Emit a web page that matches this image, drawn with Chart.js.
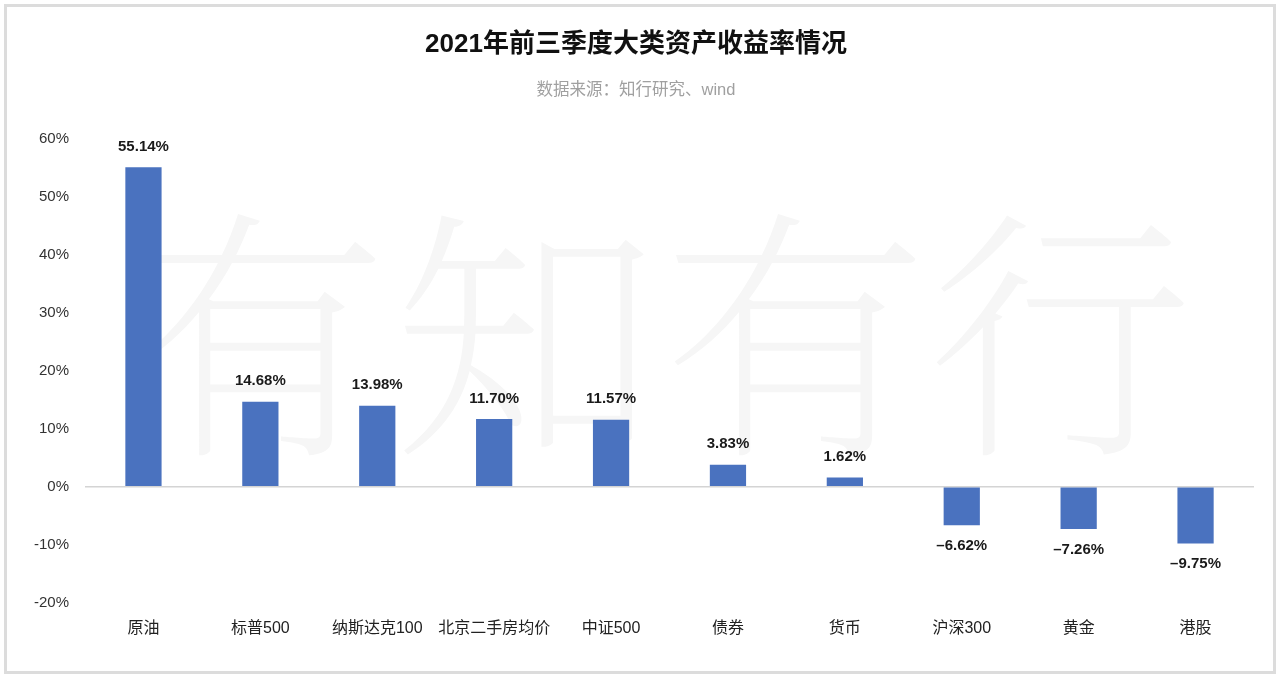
<!DOCTYPE html>
<html>
<head>
<meta charset="utf-8">
<script src="https://cdn.jsdelivr.net/npm/chart.js@4"></script>
<style>
  html, body { margin: 0; padding: 0; background: #fff; }
  #wrap { width: 1280px; height: 680px; position: relative; }
</style>
</head>
<body>
<div id="wrap"><canvas id="chart"></canvas></div>
<script>
// data
const categories = ["原油", "标普500", "纳斯达克100", "北京二手房均价", "中证500", "债券", "货币", "沪深300", "黄金", "港股"];
const returns = [55.14, 14.68, 13.98, 11.70, 11.57, 3.83, 1.62, -6.62, -7.26, -9.75];
const titleText = "2021年前三季度大类资产收益率情况";
const subtitleText = "数据来源：知行研究、wind";
const watermarkText = "有知有行";

const FONT = "'Liberation Sans', 'Noto Sans CJK SC', sans-serif";

// big faint watermark behind the bars
const watermark = {
    id: "watermark",
    beforeDatasetsDraw(chart) {
        const ctx = chart.ctx;
        ctx.save();
        ctx.fillStyle = "#f6f6f6";
        ctx.font = "200 265px 'Noto Serif CJK SC', 'Noto Sans CJK SC', serif";
        ctx.textBaseline = "middle";
        ctx.textAlign = "center";
        const chars = watermarkText.split("");
        const xs = [255, 525, 795, 1060];
        chars.forEach((c, i) => ctx.fillText(c, xs[i], 335));
        ctx.restore();
    }
};

// value labels over / under each bar
const valueLabels = {
    id: "valueLabels",
    afterDatasetsDraw(chart) {
        const ctx = chart.ctx;
        const meta = chart.getDatasetMeta(0);
        ctx.save();
        ctx.font = "bold 15px " + FONT;
        ctx.fillStyle = "#1a1a1a";
        ctx.textAlign = "center";
        meta.data.forEach((bar, i) => {
            const v = returns[i];
            const txt = (v < 0 ? "\u2013" + Math.abs(v).toFixed(2) : v.toFixed(2)) + "%";
            if (v >= 0) {
                ctx.textBaseline = "bottom";
                ctx.fillText(txt, bar.x, bar.y - 13);
            } else {
                ctx.textBaseline = "top";
                ctx.fillText(txt, bar.x, bar.y + 13);
            }
        });
        ctx.restore();
    }
};

// light frame round the picture
const frame = {
    id: "frame",
    afterDraw(chart) {
        const ctx = chart.ctx;
        ctx.save();
        ctx.strokeStyle = "#dcdcdc";
        ctx.lineWidth = 3;
        ctx.strokeRect(5.5, 5.5, 1269, 667);
        ctx.restore();
    }
};

new Chart(document.getElementById("chart"), {
    type: "bar",
    data: {
        labels: categories,
        datasets: [{
            data: returns,
            backgroundColor: "#4a72bf",
            categoryPercentage: 1,
            barPercentage: 0.31
        }]
    },
    options: {
        responsive: true,
        maintainAspectRatio: false,
        animation: false,
        layout: { padding: { left: 18, right: 26, bottom: 34 } },
        plugins: {
            legend: { display: false },
            tooltip: { enabled: false },
            title: {
                display: true,
                text: titleText,
                color: "#111",
                font: { family: FONT, size: 26, weight: "bold" },
                padding: { top: 29, bottom: 0 }
            },
            subtitle: {
                display: true,
                text: subtitleText,
                color: "#a0a0a0",
                font: { family: FONT, size: 16.5 },
                padding: { top: 20, bottom: 39 }
            }
        },
        scales: {
            x: {
                grid: { display: false },
                border: { display: false },
                ticks: {
                    color: "#222",
                    font: { family: FONT, size: 16 },
                    padding: 8,
                    maxRotation: 0,
                    minRotation: 0,
                    autoSkip: false
                }
            },
            y: {
                min: -20,
                max: 60,
                border: { display: false },
                grid: {
                    drawTicks: false,
                    color: (c) => c.tick && c.tick.value === 0 ? "#d4d4d4" : "rgba(0,0,0,0)",
                    lineWidth: 1.5
                },
                ticks: {
                    stepSize: 10,
                    color: "#333",
                    padding: 16,
                    font: { family: FONT, size: 15 },
                    callback: (v) => v + "%"
                }
            }
        }
    },
    plugins: [watermark, valueLabels, frame]
});
</script>
</body>
</html>
